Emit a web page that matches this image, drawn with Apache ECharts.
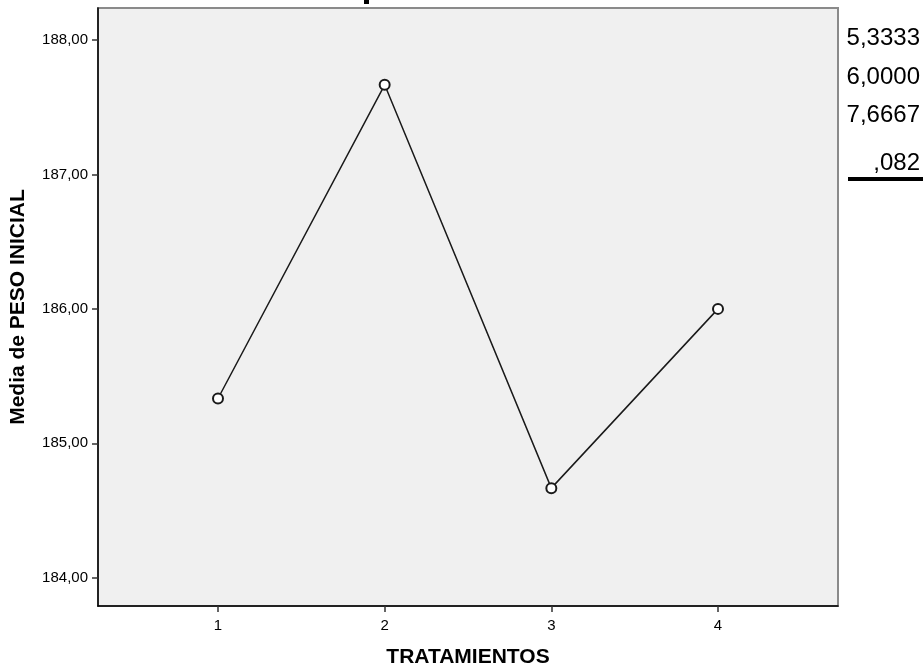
<!DOCTYPE html>
<html>
<head>
<meta charset="utf-8">
<script src="https://cdn.jsdelivr.net/npm/echarts@6/dist/echarts.min.js"></script>
<style>
html,body{margin:0;padding:0;background:#fff;}
#chart{width:923px;height:667px;}
</style>
</head>
<body>
<div id="chart"></div>
<script>
const tratamientos = [1, 2, 3, 4];
const mediaPeso = [185.3333, 187.6667, 184.6667, 186.0];
const yTicks = [184, 185, 186, 187, 188];
const sideTexts = ["5,3333", "6,0000", "7,6667", ",082"];

const fmt = v => v.toFixed(2).replace('.', ',');
const chart = echarts.init(document.getElementById('chart'));
const sideFont = '24px "Liberation Sans", Arial';
chart.setOption({
  animation: false,
  backgroundColor: '#ffffff',
  grid: {left: 98, top: 8, width: 740, height: 598, outerBoundsMode: 'none', containLabel: false,
         show: true, backgroundColor: '#f0f0f0', borderColor: '#8a8a8a', borderWidth: 2},
  xAxis: {
    type: 'value', min: 0.28, max: 4.72,
    name: 'TRATAMIENTOS', nameLocation: 'middle', nameGap: 41,
    nameTextStyle: {fontFamily: '"Liberation Sans", Arial', fontWeight: 'bold', fontSize: 21, color: '#000'},
    axisLine: {onZero: false, lineStyle: {color: '#000', width: 1.5}},
    axisTick: {show: true, length: 6, customValues: tratamientos, lineStyle: {color: '#333', width: 1.5}},
    axisLabel: {customValues: tratamientos, fontFamily: '"Liberation Sans Narrow", Arial', fontSize: 15, color: '#000', margin: 12},
    splitLine: {show: false}
  },
  yAxis: {
    type: 'value', min: 183.79, max: 188.238,
    name: 'Media de PESO INICIAL', nameLocation: 'middle', nameGap: 69, nameRotate: 90,
    nameTextStyle: {fontFamily: '"Liberation Sans", Arial', fontWeight: 'bold', fontSize: 21, color: '#000'},
    axisLine: {show: true, onZero: false, lineStyle: {color: '#000', width: 1.5}},
    axisTick: {show: true, length: 6, customValues: yTicks, lineStyle: {color: '#333', width: 1.5}},
    axisLabel: {customValues: yTicks, formatter: v => fmt(v), fontFamily: '"Liberation Sans Narrow", Arial', fontSize: 15, color: '#000', margin: 10},
    splitLine: {show: false}
  },
  series: [{
    type: 'line',
    data: tratamientos.map((t, i) => [t, mediaPeso[i]]),
    symbol: 'emptyCircle', symbolSize: 10,
    lineStyle: {color: '#1a1a1a', width: 1.5},
    itemStyle: {color: '#1a1a1a', borderColor: '#1a1a1a', borderWidth: 1.2}
  }],
  graphic: [
    {type: 'text', x: 920, y: 38, style: {text: sideTexts[0], font: sideFont, fill: '#000', align: 'right', verticalAlign: 'middle'}},
    {type: 'text', x: 920, y: 77, style: {text: sideTexts[1], font: sideFont, fill: '#000', align: 'right', verticalAlign: 'middle'}},
    {type: 'text', x: 920, y: 115, style: {text: sideTexts[2], font: sideFont, fill: '#000', align: 'right', verticalAlign: 'middle'}},
    {type: 'text', x: 920, y: 163, style: {text: sideTexts[3], font: sideFont, fill: '#000', align: 'right', verticalAlign: 'middle'}},
    {type: 'rect', shape: {x: 848, y: 177, width: 75, height: 4}, style: {fill: '#000'}},
    {type: 'rect', shape: {x: 364, y: 0, width: 5, height: 4}, style: {fill: '#000'}}
  ]
});
</script>
</body>
</html>
